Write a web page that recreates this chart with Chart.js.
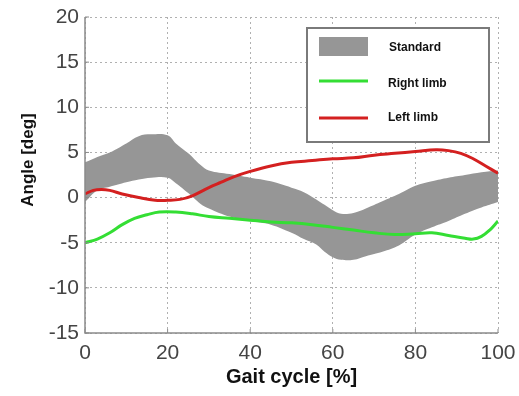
<!DOCTYPE html>
<html>
<head>
<meta charset="utf-8">
<script src="https://cdn.jsdelivr.net/npm/chart.js@4"></script>
<style>
  html, body { margin: 0; padding: 0; background: #fff; }
  #wrap { width: 519px; height: 396px; }
</style>
</head>
<body>
<div id="wrap"><canvas id="gait"></canvas></div>
<script>
  // gait cycle positions (%) and angles (deg)
  const bandX = [0, 3, 6, 10, 13, 16, 20, 22, 25, 28, 30, 35, 40, 45, 50, 53, 56, 58, 60, 62, 65, 68, 72, 76, 80, 84, 88, 92, 96, 100];
  const bandUpper = [3.9, 4.5, 5.0, 6.0, 6.8, 7.0, 6.9, 6.0, 4.9, 3.6, 3.0, 2.6, 2.2, 1.8, 1.1, 0.6, -0.2, -0.8, -1.4, -1.8, -1.7, -1.2, -0.4, 0.4, 1.3, 1.8, 2.2, 2.5, 2.8, 3.0];
  const bandLower = [-0.5, 0.8, 1.2, 1.7, 2.0, 2.2, 2.2, 1.6, 0.5, -0.7, -1.2, -2.1, -2.6, -3.0, -3.9, -4.6, -5.2, -6.0, -6.6, -6.9, -6.9, -6.5, -6.0, -5.3, -4.1, -3.3, -2.6, -1.8, -1.1, -0.5];

  const rightX = [0, 3, 6, 9, 12, 15, 18, 22, 26, 30, 35, 40, 45, 50, 55, 60, 65, 70, 75, 80, 84, 88, 92, 94, 96, 98, 100];
  const rightLimb = [-5.0, -4.6, -3.9, -3.0, -2.3, -1.9, -1.6, -1.6, -1.8, -2.1, -2.3, -2.5, -2.7, -2.8, -3.0, -3.3, -3.6, -3.9, -4.1, -4.0, -3.9, -4.2, -4.5, -4.6, -4.3, -3.6, -2.6];

  const leftX = [0, 2, 4, 6, 9, 13, 17, 20, 23, 26, 30, 33, 36, 40, 45, 50, 55, 60, 65, 70, 75, 80, 85, 88, 91, 94, 97, 100];
  const leftLimb = [0.4, 0.8, 0.9, 0.8, 0.4, 0.0, -0.3, -0.3, -0.2, 0.2, 1.1, 1.7, 2.3, 2.9, 3.5, 3.9, 4.1, 4.3, 4.4, 4.7, 4.9, 5.1, 5.3, 5.2, 4.9, 4.3, 3.5, 2.7];

  const xTicks = [0, 20, 40, 60, 80, 100];
  const yTicks = [-15, -10, -5, 0, 5, 10, 15, 20];
  const legendLabels = ["Standard", "Right limb", "Left limb"];

  const GRAY = "rgb(150,150,150)";
  const GREEN = "rgb(52,222,52)";
  const RED = "rgb(212,32,32)";
  const AXIS = "#8a8a8a";
  const FONT = "'Liberation Sans', Arial, sans-serif";

  const pts = (xs, ys) => xs.map((x, i) => ({ x: x, y: ys[i] }));

  // solid left/bottom axes with small inward ticks (grid stays dotted)
  const axesLines = {
    id: "axesLines",
    afterDatasetsDraw(chart) {
      const { ctx, chartArea: a, scales } = chart;
      ctx.save();
      ctx.strokeStyle = AXIS;
      ctx.lineWidth = 1.5;
      ctx.beginPath();
      ctx.moveTo(a.left, a.top);
      ctx.lineTo(a.left, a.bottom);
      ctx.lineTo(a.right, a.bottom);
      ctx.stroke();
      ctx.lineWidth = 1;
      ctx.beginPath();
      xTicks.forEach((v) => {
        const px = scales.x.getPixelForValue(v);
        ctx.moveTo(px, a.bottom);
        ctx.lineTo(px, a.bottom - 4);
      });
      yTicks.forEach((v) => {
        const py = scales.y.getPixelForValue(v);
        ctx.moveTo(a.left, py);
        ctx.lineTo(a.left + 4, py);
      });
      ctx.stroke();
      ctx.restore();
    }
  };

  // legend box inside the plot + y title placed like the figure
  const overlay = {
    id: "overlay",
    afterDraw(chart) {
      const ctx = chart.ctx;
      ctx.save();
      ctx.fillStyle = "#fff";
      ctx.fillRect(307, 28, 182, 114);
      ctx.strokeStyle = "#7a7a7a";
      ctx.lineWidth = 2;
      ctx.strokeRect(307, 28, 182, 114);

      ctx.fillStyle = GRAY;
      ctx.fillRect(319, 37, 49, 19);
      ctx.lineWidth = 3;
      ctx.strokeStyle = GREEN;
      ctx.beginPath(); ctx.moveTo(319, 81); ctx.lineTo(368, 81); ctx.stroke();
      ctx.strokeStyle = RED;
      ctx.beginPath(); ctx.moveTo(319, 118); ctx.lineTo(368, 118); ctx.stroke();

      ctx.fillStyle = "#111";
      ctx.font = "bold 12px " + FONT;
      ctx.textBaseline = "middle";
      ctx.fillText(legendLabels[0], 389, 48);
      ctx.fillText(legendLabels[1], 388, 84);
      ctx.fillText(legendLabels[2], 388, 118);

      ctx.translate(28, 160);
      ctx.rotate(-Math.PI / 2);
      ctx.textAlign = "center";
      ctx.font = "bold 17px " + FONT;
      ctx.fillText("Angle [deg]", 0, 0);
      ctx.restore();
    }
  };

  new Chart(document.getElementById("gait"), {
    type: "line",
    data: {
      datasets: [
        {
          label: legendLabels[0],
          data: pts(bandX, bandUpper),
          borderWidth: 0,
          borderColor: GRAY,
          backgroundColor: GRAY,
          pointRadius: 0,
          tension: 0.4,
          fill: "+1",
          order: 3
        },
        {
          label: legendLabels[0] + " lower",
          data: pts(bandX, bandLower),
          borderWidth: 0,
          borderColor: GRAY,
          pointRadius: 0,
          tension: 0.4,
          fill: false,
          order: 3
        },
        {
          label: legendLabels[1],
          data: pts(rightX, rightLimb),
          borderColor: GREEN,
          borderWidth: 3,
          pointRadius: 0,
          tension: 0.4,
          fill: false,
          order: 2
        },
        {
          label: legendLabels[2],
          data: pts(leftX, leftLimb),
          borderColor: RED,
          borderWidth: 3,
          pointRadius: 0,
          tension: 0.4,
          fill: false,
          order: 1
        }
      ]
    },
    options: {
      responsive: true,
      maintainAspectRatio: false,
      animation: false,
      layout: { padding: { left: 0, right: 21, top: 17, bottom: 0 } },
      plugins: { legend: { display: false }, tooltip: { enabled: false } },
      scales: {
        x: {
          type: "linear",
          min: 0,
          max: 100,
          afterBuildTicks: (s) => { s.ticks = xTicks.map((v) => ({ value: v })); },
          afterFit: (s) => { s.height = 63; s.paddingRight = 0; s.paddingLeft = 0; },
          border: { display: false, dash: [2, 3] },
          grid: { color: "#b0b0b0", lineWidth: 1, tickLength: 0 },
          ticks: { color: "#444", padding: 8, font: { family: FONT, size: 21 } },
          title: {
            display: true,
            text: "Gait cycle [%]",
            color: "#111",
            padding: { top: 0, bottom: 7 },
            font: { family: FONT, size: 20, weight: "bold" }
          }
        },
        y: {
          min: -15,
          max: 20,
          afterBuildTicks: (s) => { s.ticks = yTicks.map((v) => ({ value: v })); },
          afterFit: (s) => { s.width = 85; s.paddingTop = 0; s.paddingBottom = 0; },
          border: { display: false, dash: [2, 3] },
          grid: { color: "#b0b0b0", lineWidth: 1, tickLength: 0 },
          ticks: { color: "#444", padding: 6, font: { family: FONT, size: 21 } }
        }
      }
    },
    plugins: [axesLines, overlay]
  });
</script>
</body>
</html>
